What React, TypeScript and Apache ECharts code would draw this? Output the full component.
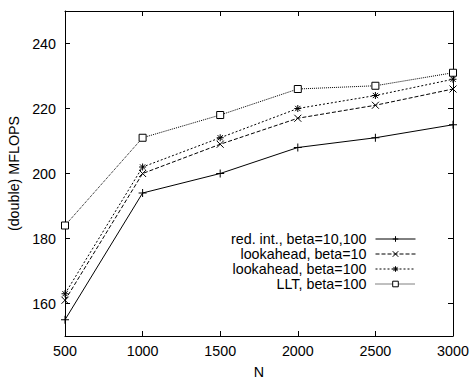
import React, { useEffect, useRef } from "react";
import * as echarts from "echarts";

const nValues = [500, 1000, 1500, 2000, 2500, 3000];
const redInt = [155, 194, 200, 208, 211, 215];
const lookahead10 = [161, 200, 209, 217, 221, 226];
const lookahead100 = [163, 202, 211, 220, 224, 229];
const llt100 = [184, 211, 218, 226, 227, 231];
const yTicks = [160, 180, 200, 220, 240];
const seriesNames = [
  "red. int., beta=10,100",
  "lookahead, beta=10",
  "lookahead, beta=100",
  "LLT, beta=100",
];

const FONT = "Liberation Sans, Arial, Helvetica, sans-serif";
const FS = 14.3;

const plusSym = "path://M0,4L8,4M4,0L4,8";
const crossSym = "path://M0,0L8,8M0,8L8,0";
const starSym = "path://M0,4L8,4M4,0L4,8M1,1L7,7M1,7L7,1";
const squareSym = "path://M0,0L8,0L8,8L0,8Z";

export default function App() {
  const ref = useRef<HTMLDivElement>(null);
  useEffect(() => {
    if (!ref.current) return;
    const chart = echarts.init(ref.current, null, { renderer: "svg" });
    const mk = (name: string, vals: number[], sym: string, dash: any, fill: string, size: number) => ({
      name,
      type: "line",
      data: nValues.map((n, i) => [n, vals[i]]),
      symbol: sym,
      symbolSize: size,
      showAllSymbol: true,
      lineStyle: { color: "#000", width: 1, type: dash },
      itemStyle: { color: fill, borderColor: "#000", borderWidth: 1 },
      emphasis: { disabled: true },
    });
    const axisCommonX = {
      type: "value",
      min: 500,
      max: 3000,
      interval: 500,
      splitLine: { show: false },
      axisLine: { show: true, lineStyle: { color: "#000", width: 1 } },
      axisTick: { show: true, inside: true, length: 5, lineStyle: { color: "#000" } },
    };
    const axisCommonY = {
      type: "value",
      min: 150,
      max: 250,
      splitLine: { show: false },
      axisLine: { show: true, lineStyle: { color: "#000", width: 1 } },
      axisTick: { show: true, inside: true, length: 5, customValues: yTicks, lineStyle: { color: "#000" } },
    };
    chart.setOption({
      animation: false,
      backgroundColor: "#fff",
      textStyle: { fontFamily: FONT },
      grid: { left: 65, right: 18, top: 11, bottom: 44, outerBoundsMode: "none" },
      xAxis: [
        {
          ...axisCommonX,
          position: "bottom",
          name: "N",
          nameLocation: "middle",
          nameGap: 29,
          nameTextStyle: { color: "#000", fontSize: FS, fontFamily: FONT },
          axisLabel: {
            color: "#000",
            fontSize: FS,
            fontFamily: FONT,
            margin: 8,
            formatter: (v: number) => String(v),
          },
        },
        {
          ...axisCommonX,
          position: "top",
          axisLabel: { show: false },
        },
      ],
      yAxis: [
        {
          ...axisCommonY,
          position: "left",
          name: "(double) MFLOPS",
          nameLocation: "middle",
          nameGap: 40,
          nameTextStyle: { color: "#000", fontSize: FS, fontFamily: FONT },
          axisLabel: {
            color: "#000",
            fontSize: FS,
            fontFamily: FONT,
            margin: 9,
            customValues: yTicks,
            formatter: (v: number) => String(v),
          },
        },
        {
          ...axisCommonY,
          position: "right",
          axisLabel: { show: false },
        },
      ],
      legend: {
        orient: "vertical",
        right: 50,
        top: 227,
        padding: 5,
        align: "right",
        itemWidth: 40,
        itemHeight: 7,
        itemGap: 1,
        data: seriesNames,
        lineStyle: { width: 1 },
        itemStyle: { borderWidth: 1 },
        textStyle: { color: "#000", fontSize: FS, fontFamily: FONT, lineHeight: 13, padding: [0, 4, 0, 0] },
      },
      series: [
        mk(seriesNames[0], redInt, plusSym, "solid", "#000", 8),
        mk(seriesNames[1], lookahead10, crossSym, [4, 2], "#000", 7),
        mk(seriesNames[2], lookahead100, starSym, [2, 2], "#000", 7),
        mk(seriesNames[3], llt100, squareSym, [1, 1], "#fff", 7),
      ],
    });
    return () => chart.dispose();
  }, []);
  return (
    <div
      ref={ref}
      style={{ position: "fixed", left: 0, top: 0, width: 471, height: 380, background: "#fff" }}
    />
  );
}
